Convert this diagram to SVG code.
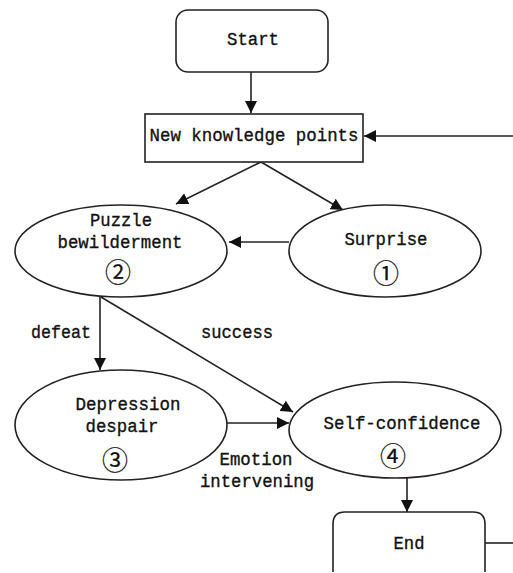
<svg xmlns="http://www.w3.org/2000/svg" width="513" height="573" viewBox="0 0 513 573">
  <style>
    .shape { fill: #ffffff; stroke: #222; stroke-width: 1.6; }
    .edge { fill: none; stroke: #222; stroke-width: 1.6; }
    text { font-family: "Liberation Mono", "DejaVu Sans Mono", monospace; font-size: 19px; fill: #111; stroke: #111; stroke-width: 0.35; text-anchor: middle; }
    .num { font-family: "Noto Sans CJK SC", "DejaVu Sans", sans-serif; font-size: 26px; stroke-width: 0.2; }
    .lbl { text-anchor: start; }
  </style>
  <defs>
    <marker id="arrow" viewBox="0 0 12 12" refX="12" refY="6" markerWidth="12" markerHeight="12" markerUnits="userSpaceOnUse" orient="auto">
      <path d="M0,0 L12,6 L0,12 Z" fill="#111"/>
    </marker>
  </defs>
  <rect width="513" height="573" fill="#ffffff"/>

  <g id="connectors">
    <line class="edge" x1="251" y1="72" x2="251" y2="113" marker-end="url(#arrow)"/>
    <line class="edge" x1="513" y1="136" x2="364" y2="136" marker-end="url(#arrow)"/>
    <line class="edge" x1="261" y1="162" x2="176" y2="204" marker-end="url(#arrow)"/>
    <line class="edge" x1="261" y1="162" x2="343" y2="210" marker-end="url(#arrow)"/>
    <line class="edge" x1="289" y1="242" x2="229" y2="242" marker-end="url(#arrow)"/>
    <line class="edge" x1="100" y1="297" x2="100" y2="370" marker-end="url(#arrow)"/>
    <line class="edge" x1="101" y1="297" x2="293" y2="412" marker-end="url(#arrow)"/>
    <line class="edge" x1="227" y1="423" x2="289" y2="423" marker-end="url(#arrow)"/>
    <line class="edge" x1="407" y1="478" x2="407" y2="512" marker-end="url(#arrow)"/>
    <line class="edge" x1="485" y1="543" x2="513" y2="543"/>
    <text class="lbl" x="31" y="338" textLength="60" lengthAdjust="spacingAndGlyphs">defeat</text>
    <text class="lbl" x="201" y="338" textLength="72" lengthAdjust="spacingAndGlyphs">success</text>
    <text x="256" y="465" textLength="73" lengthAdjust="spacingAndGlyphs">Emotion</text>
    <text x="257" y="487" textLength="114" lengthAdjust="spacingAndGlyphs">intervening</text>
  </g>

  <g id="start">
    <rect class="shape" x="176" y="10" width="152" height="62" rx="12"/>
    <text x="253" y="45" textLength="52" lengthAdjust="spacingAndGlyphs">Start</text>
  </g>

  <g id="new-knowledge">
    <rect class="shape" x="145" y="114" width="218" height="48"/>
    <text x="254" y="141" textLength="209" lengthAdjust="spacingAndGlyphs">New knowledge points</text>
  </g>

  <g id="puzzle">
    <ellipse class="shape" cx="121" cy="251" rx="106" ry="46"/>
    <text x="121" y="226" textLength="62" lengthAdjust="spacingAndGlyphs">Puzzle</text>
    <text x="120" y="248" textLength="125" lengthAdjust="spacingAndGlyphs">bewilderment</text>
    <text class="num" x="118" y="282">②</text>
  </g>

  <g id="surprise">
    <ellipse class="shape" cx="385" cy="251" rx="96" ry="46"/>
    <text x="386" y="245" textLength="83" lengthAdjust="spacingAndGlyphs">Surprise</text>
    <text class="num" x="386" y="283">①</text>
  </g>

  <g id="depression">
    <ellipse class="shape" cx="121" cy="425" rx="106" ry="55"/>
    <text x="128" y="410" textLength="105" lengthAdjust="spacingAndGlyphs">Depression</text>
    <text x="122" y="432" textLength="73" lengthAdjust="spacingAndGlyphs">despair</text>
    <text class="num" x="115" y="470">③</text>
  </g>

  <g id="self-confidence">
    <ellipse class="shape" cx="395" cy="430" rx="106" ry="48"/>
    <text x="402" y="429" textLength="157" lengthAdjust="spacingAndGlyphs">Self-confidence</text>
    <text class="num" x="393" y="466">④</text>
  </g>

  <g id="end">
    <path class="shape" d="M333,572 L333,524 Q333,512 345,512 L473,512 Q485,512 485,524 L485,572"/>
    <text x="409" y="549" textLength="31" lengthAdjust="spacingAndGlyphs">End</text>
  </g>
</svg>
